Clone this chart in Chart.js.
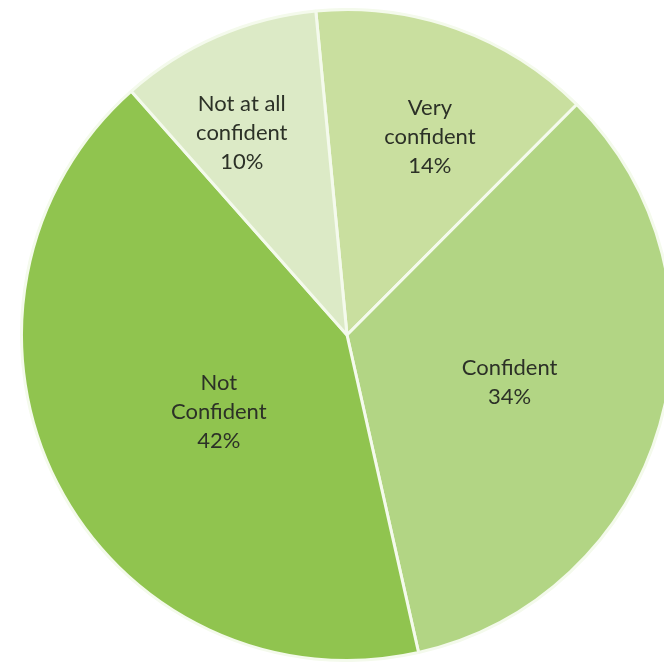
<!DOCTYPE html>
<html>
<head>
<meta charset="utf-8">
<script src="https://cdn.jsdelivr.net/npm/chart.js@4.4.0/dist/chart.umd.min.js"></script>
<style>
  html, body { margin: 0; padding: 0; background: #fff; overflow: hidden; width: 664px; height: 664px; }
  #wrap { position: absolute; left: 20px; top: 8px; width: 654px; height: 654px; }
</style>
</head>
<body>
<div id="wrap"><canvas id="pie"></canvas></div>
<script>
// ---- donnees ----
const categories = [
  ['Very', 'confident'],
  ['Confident'],
  ['Not', 'Confident'],
  ['Not at all', 'confident']
];
const percents = [14, 34, 42, 10];
const couleurs = ['#c9df9f', '#b2d584', '#90c44f', '#dceac6'];

// placement des etiquettes (fraction du rayon, decalage en degres)
const labelRadius = [0.66, 0.52, 0.46, 0.70];
const labelTurn = [3, 0, -4, -4];

// dessine le texte de chaque part
const sliceLabels = {
  id: 'sliceLabels',
  afterDatasetsDraw(chart) {
    const ctx = chart.ctx;
    const meta = chart.getDatasetMeta(0);
    ctx.save();
    ctx.fillStyle = '#2c3127';
    ctx.font = '22px Lato, "Open Sans", sans-serif';
    ctx.textAlign = 'center';
    ctx.textBaseline = 'middle';
    meta.data.forEach((arc, i) => {
      const mid = (arc.startAngle + arc.endAngle) / 2 + labelTurn[i] * Math.PI / 180;
      const r = arc.outerRadius * labelRadius[i];
      const cx = arc.x + Math.cos(mid) * r;
      const cy = arc.y + Math.sin(mid) * r;
      const lines = categories[i].concat([percents[i] + '%']);
      const lh = 29;
      const y0 = cy - (lines.length - 1) * lh / 2;
      lines.forEach((t, k) => ctx.fillText(t, cx, y0 + k * lh));
    });
    ctx.restore();
  }
};

const config = {
  type: 'pie',
  data: {
    labels: categories.map(c => c.join(' ')),
    datasets: [{
      data: percents,
      backgroundColor: couleurs,
      borderColor: '#f4faec',
      borderWidth: 3
    }]
  },
  options: {
    responsive: true,
    maintainAspectRatio: false,
    animation: false,
    rotation: -5.5,
    plugins: {
      legend: { display: false },
      tooltip: { enabled: false }
    }
  },
  plugins: [sliceLabels]
};

const pie = new Chart(document.getElementById('pie').getContext('2d'), config);
</script>
</body>
</html>
